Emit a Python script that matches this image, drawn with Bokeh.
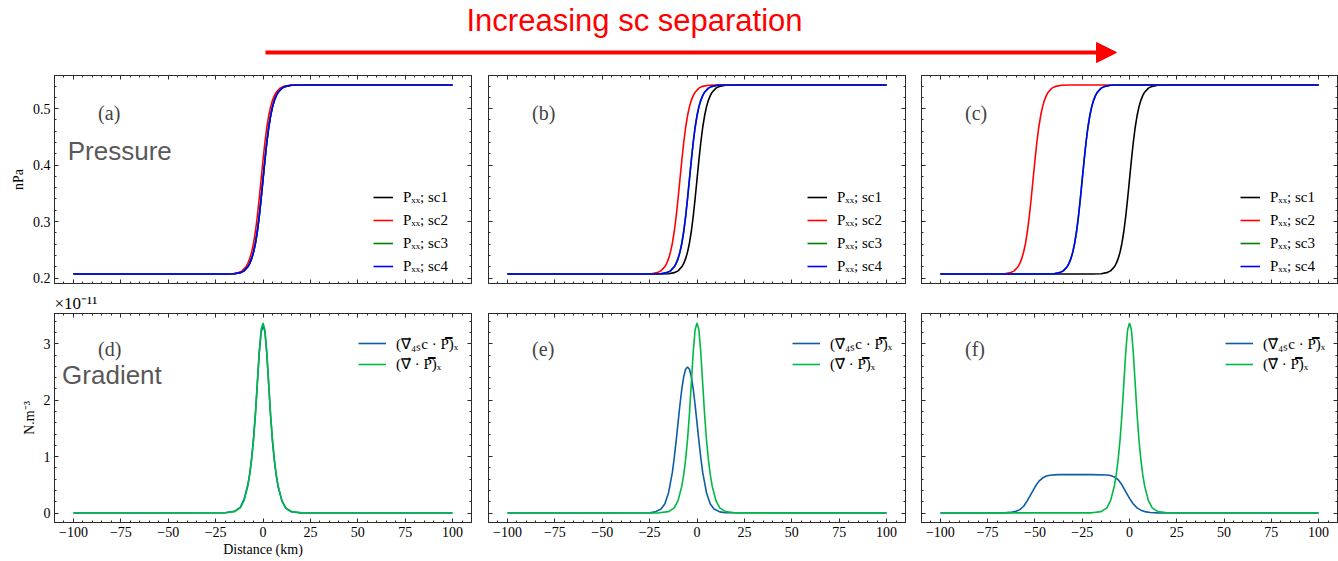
from bokeh.plotting import figure
from bokeh.layouts import column, row
from bokeh.models import (Range1d, SingleIntervalTicker, LinearAxis, Label,
                          Arrow, NormalHead, CustomJSTickFormatter)
from bokeh.embed import file_html
from bokeh.resources import INLINE

# ---------------- data ----------------
# pressure profile shared by all spacecraft (nPa)
P_SHAPE = [0.207, 0.207, 0.2077, 0.2095, 0.2127, 0.2199, 0.2259, 0.2343, 0.2459,
           0.2616, 0.2824, 0.309, 0.3404, 0.3745, 0.4086, 0.44, 0.4666, 0.4874,
           0.5031, 0.5147, 0.5231, 0.5291, 0.5363, 0.5395, 0.5413, 0.542, 0.542]
# distance samples (km) for each spacecraft crossing
X_P0 = [-100, -20, -15, -12, -10, -8, -7, -6, -5, -4, -3, -2, -1, 0, 1, 2, 3, 4, 5,
        6, 7, 8, 10, 12, 15, 20, 100]
X_A_SC2 = [-100, -21, -16, -13, -11, -9, -8, -7, -6, -5, -4, -3, -2, -1, 0, 1, 2, 3,
           4, 5, 6, 7, 9, 11, 14, 19, 100]
X_B_SC2 = [-100, -29, -24, -21, -19, -17, -16, -15, -14, -13, -12, -11, -10, -9, -8,
           -7, -6, -5, -4, -3, -2, -1, 1, 3, 6, 11, 100]
X_B_SC34 = [-100, -24, -19, -16, -14, -12, -11, -10, -9, -8, -7, -6, -5, -4, -3, -2,
            -1, 0, 1, 2, 3, 4, 6, 8, 11, 16, 100]
X_C_SC2 = [-100, -71, -66, -63, -61, -59, -58, -57, -56, -55, -54, -53, -52, -51, -50,
           -49, -48, -47, -46, -45, -44, -43, -41, -39, -36, -31, 100]
X_C_SC34 = [-100, -45, -40, -37, -35, -33, -32, -31, -30, -29, -28, -27, -26, -25, -24,
            -23, -22, -21, -20, -19, -18, -17, -15, -13, -10, -5, 100]

SC_LABELS = ["Pₓₓ; sc1", "Pₓₓ; sc2", "Pₓₓ; sc3", "Pₓₓ; sc4"]
SC_COLORS = ["#000000", "#ff0000", "#008000", "#0000ff"]

# gradients (x 1e-11 N.m^-3)
X_TRUE = [-100, -20, -15, -12, -10, -8, -7, -6, -5, -4, -3, -2, -1, 0, 1, 2, 3, 4, 5,
          6, 7, 8, 10, 12, 15, 20, 100]
G_TRUE = [0, 0.003, 0.025, 0.09, 0.22, 0.48, 0.68, 0.95, 1.3, 1.75, 2.3, 2.85, 3.25,
          3.37, 3.25, 2.85, 2.3, 1.75, 1.3, 0.95, 0.68, 0.48, 0.22, 0.09, 0.025, 0.003, 0]
G_4SC_D = [0, 0.004, 0.03, 0.1, 0.24, 0.5, 0.7, 0.97, 1.32, 1.76, 2.29, 2.82, 3.2,
           3.33, 3.22, 2.83, 2.28, 1.72, 1.27, 0.92, 0.66, 0.46, 0.21, 0.085, 0.022, 0.003, 0]
X_4SC_E = [-100, -25, -22, -19, -17, -15, -13, -12, -11, -10, -9, -8, -7, -6, -5, -4,
           -3, -2, -1, 0, 1, 2, 3, 5, 7, 9, 12, 15, 100]
G_4SC_E = [0, 0.005, 0.02, 0.07, 0.16, 0.36, 0.72, 0.98, 1.28, 1.6, 1.92, 2.2, 2.42,
           2.55, 2.59, 2.55, 2.42, 2.2, 1.92, 1.6, 1.28, 0.98, 0.72, 0.36, 0.16, 0.07,
           0.02, 0.005, 0]
X_4SC_F = [-100, -66, -62, -60, -58, -56, -54, -52, -50, -48, -46, -44, -42, -38, -20,
           -12, -10, -8, -6, -4, -2, 0, 2, 4, 6, 8, 11, 15, 100]
G_4SC_F = [0, 0.003, 0.015, 0.03, 0.06, 0.12, 0.22, 0.34, 0.46, 0.56, 0.62, 0.655,
           0.67, 0.68, 0.68, 0.675, 0.665, 0.64, 0.59, 0.5, 0.38, 0.26, 0.16, 0.09, 0.05,
           0.025, 0.01, 0.002, 0]

GRAD_LABELS = ["(∇⃗₄ₛc · P̿)ₓ", "(∇⃗ · P̿)ₓ"]
GRAD_COLORS = ["#0C5DA5", "#00B945"]

PANEL_TAGS = ["(a)", "(b)", "(c)", "(d)", "(e)", "(f)"]

# ---------------- styling ----------------
SERIF = "Liberation Serif"
SANS = "Liberation Sans"
INK = "#2b2b2b"

COLS = [(54, 8, 417), (9, 8, 417), (8, 1, 416)]   # left border, right border, frame width
ROWS = [(10, 8, 208), (21, 40, 209)]               # top border, bottom border, frame height

minus_fmt = CustomJSTickFormatter(code="return tick < 0 ? '\u2212' + Math.abs(tick) : String(tick);")
blank_fmt = CustomJSTickFormatter(code="return '';")


def style_axis(ax, show_labels):
    ax.major_tick_in = 4
    ax.major_tick_out = 0
    ax.minor_tick_in = 2
    ax.minor_tick_out = 0
    ax.major_tick_line_color = INK
    ax.minor_tick_line_color = INK
    ax.axis_line_color = INK
    ax.major_label_text_font = SERIF
    ax.major_label_text_color = "black"
    ax.major_label_text_font_size = "14px"
    if show_labels:
        ax.major_label_standoff = 4
    else:
        ax.formatter = blank_fmt
        ax.major_label_standoff = 0
    ax.axis_label_text_font = SERIF
    ax.axis_label_text_font_style = "normal"
    ax.axis_label_text_font_size = "14px"
    ax.axis_label_text_color = "black"
    ax.axis_label_standoff = 4


def make_panel(ci, ri, y_lo, y_hi, y_int, title=None):
    left, right, fw = COLS[ci]
    top, bottom, fh = ROWS[ri]
    kw = {}
    if title is not None:
        kw["title"] = title
    p = figure(frame_width=fw, frame_height=fh, min_border_left=left,
               min_border_right=right, min_border_top=top, min_border_bottom=bottom,
               x_range=Range1d(-110, 110), y_range=Range1d(y_lo, y_hi),
               toolbar_location=None, output_backend="svg",
               background_fill_color="white", border_fill_color="white",
               outline_line_color=INK, **kw)
    p.xgrid.visible = False
    p.ygrid.visible = False
    xt = SingleIntervalTicker(interval=25, num_minor_ticks=5)
    yt = SingleIntervalTicker(interval=y_int, num_minor_ticks=5)
    bx = p.below[0]
    ly = p.left[0]
    bx.ticker = xt
    ly.ticker = yt
    bx.formatter = minus_fmt
    ax_top = LinearAxis(ticker=xt)
    ax_right = LinearAxis(ticker=yt)
    p.add_layout(ax_top, "above")
    p.add_layout(ax_right, "right")
    style_axis(bx, ri == 1)
    style_axis(ly, ci == 0)
    style_axis(ax_top, False)
    style_axis(ax_right, False)
    return p


def style_legend(p, loc, gw, gh, spacing):
    leg = p.legend[0]
    leg.location = loc
    leg.margin = 0
    leg.padding = 0
    leg.spacing = spacing
    leg.glyph_width = gw
    leg.glyph_height = gh
    leg.label_height = gh
    leg.label_standoff = 10
    leg.border_line_alpha = 0
    leg.background_fill_alpha = 0
    leg.label_text_font = SERIF
    leg.label_text_font_size = "15px"
    leg.label_text_color = "black"


# ---------------- header (arrow + caption) ----------------
hdr = figure(width=1338, height=65, x_range=Range1d(0, 1338), y_range=Range1d(65, 0),
             toolbar_location=None, output_backend="svg", x_axis_type=None,
             y_axis_type=None, min_border=0, outline_line_color=None,
             background_fill_color="white", border_fill_color="white")
hdr.xgrid.visible = False
hdr.ygrid.visible = False
hdr.add_layout(Arrow(end=NormalHead(size=20, fill_color="#ff0000", line_color="#ff0000"),
                     x_start=265, y_start=52, x_end=1116, y_end=52,
                     line_color="#ff0000", line_width=4))
hdr.add_layout(Label(x=634, y=20, text="Increasing sc separation", text_font=SANS,
                     text_font_size="31px", text_color="#ff0000",
                     text_align="center", text_baseline="middle"))

# ---------------- top row: pressure ----------------
top_sets = [
    [X_P0, X_A_SC2, X_P0, X_P0],
    [X_P0, X_B_SC2, X_B_SC34, X_B_SC34],
    [X_P0, X_C_SC2, X_C_SC34, X_C_SC34],
]
top_figs = []
for ci in range(3):
    p = make_panel(ci, 0, 0.1903, 0.5587, 0.1)
    for xs, lab, col in zip(top_sets[ci], SC_LABELS, SC_COLORS):
        p.line(xs, P_SHAPE, line_color=col, line_width=1.6, legend_label=lab)
    style_legend(p, (319, 7), 20, 20, 3)
    p.add_layout(Label(x=-87, y=0.493, text=PANEL_TAGS[ci], text_font=SERIF,
                       text_font_size="20px", text_baseline="middle"))
    top_figs.append(p)

top_figs[0].left[0].axis_label = "nPa"
top_figs[0].add_layout(Label(x=-103, y=0.425, text="Pressure", text_font=SANS,
                             text_font_size="26px", text_color="#595959",
                             text_baseline="middle"))

# ---------------- bottom row: gradient ----------------
bot_sets = [
    (X_TRUE, G_4SC_D),
    (X_4SC_E, G_4SC_E),
    (X_4SC_F, G_4SC_F),
]
bot_figs = []
for ci in range(3):
    p = make_panel(ci, 1, -0.1685, 3.5385, 1, title="×10⁻¹¹" if ci == 0 else None)
    xs4, gs4 = bot_sets[ci]
    p.line(xs4, gs4, line_color=GRAD_COLORS[0], line_width=1.6, legend_label=GRAD_LABELS[0])
    p.line(X_TRUE, G_TRUE, line_color=GRAD_COLORS[1], line_width=1.6, legend_label=GRAD_LABELS[1])
    style_legend(p, (304, 149), 28, 18, 2)
    p.add_layout(Label(x=-87, y=2.9, text=PANEL_TAGS[3 + ci], text_font=SERIF,
                       text_font_size="20px", text_baseline="middle"))
    bot_figs.append(p)

fd = bot_figs[0]
fd.title.text_font = SERIF
fd.title.text_font_size = "17px"
fd.title.text_font_style = "normal"
fd.title.text_color = "black"
fd.title.align = "left"
fd.title.offset = 0
fd.title.standoff = 1
fd.left[0].axis_label = "N.m⁻³"
fd.below[0].axis_label = "Distance (km)"
fd.below[0].axis_label_standoff = 2
fd.add_layout(Label(x=-106, y=2.45, text="Gradient", text_font=SANS,
                    text_font_size="26px", text_color="#595959",
                    text_baseline="middle"))

layout = column(hdr, row(*top_figs), row(*bot_figs))

with open("out.html", "w") as f:
    f.write(file_html(layout, INLINE))
